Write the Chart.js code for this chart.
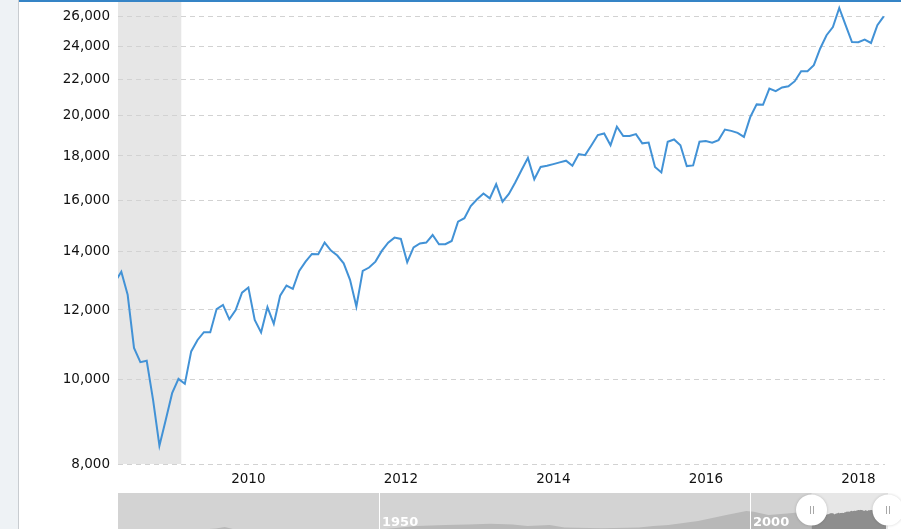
<!DOCTYPE html>
<html><head><meta charset="utf-8">
<script src="https://cdn.jsdelivr.net/npm/chart.js@4"></script>
<style>
html,body{margin:0;padding:0;width:901px;height:529px;overflow:hidden;background:#fff;}
#strip{position:absolute;left:0;top:0;width:18px;height:529px;background:#eef2f5;border-right:1px solid #c8ccd0;}
#topline{position:absolute;left:19px;top:0;width:882px;height:2px;background:#3584c6;z-index:2;}
#mainWrap{position:absolute;left:19px;top:0;width:882px;height:490px;}
#navWrap{position:absolute;left:118px;top:493px;width:783px;height:36px;}
</style></head><body>
<div id="strip"></div>
<div id="mainWrap"><canvas id="main" width="882" height="490"></canvas></div>
<div id="topline"></div>
<div id="navWrap"><canvas id="nav" width="783" height="36"></canvas></div>
<script>
// ---- main series: monthly values, starting April 2008 ----
const startYear = 2008;
const startMonth = 4;
const values = [
  12920, 13270, 12490, 10860, 10460, 10500, 9470, 8395, 8990,   // Apr 2008 - Dec 2008
  9640, 10010, 9880, 10760, 11090, 11320, 11320, 12030, 12160, 11710, 12000, 12560, // 2009
  12730, 11690, 11310, 12090, 11570, 12460, 12800, 12690, 13300, 13630, 13910, 13900, // 2010
  14330, 14030, 13850, 13570, 12990, 12110, 13300, 13420, 13630, 14020, 14330, 14520, // 2011
  14470, 13610, 14150, 14300, 14330, 14620, 14270, 14270, 14390, 15140, 15280, 15780, // 2012
  16060, 16310, 16100, 16710, 15960, 16290, 16790, 17350, 17910, 16930, 17490, 17540, // 2013
  17620, 17700, 17780, 17540, 18090, 18040, 18520, 19020, 19100, 18520, 19440, 18970, // 2014
  18970, 19070, 18610, 18650, 17490, 17240, 18690, 18800, 18520, 17530, 17560, 18690, // 2015
  18720, 18640, 18770, 19300, 19230, 19130, 18930, 19950, 20620, 20600, 21500, 21350, // 2016
  21560, 21630, 21920, 22500, 22500, 22860, 23890, 24740, 25280, 26580, 25400, 24300, // 2017
  24290, 24460, 24240, 25400, 26000                                                  // 2018
];
const yearTicks = [2010, 2012, 2014, 2016, 2018];
const valueTicks = [8000, 10000, 12000, 14000, 16000, 18000, 20000, 22000, 24000, 26000];
const viewRange = [2008.29, 2018.35];
const recession = [2007.92, 2009.12];

// ---- navigator (long history) ----
const navYears = [1914.8, 1920, 1925, 1928, 1929.2, 1931, 1935, 1945, 1950, 1955, 1959, 1962, 1965, 1968, 1970, 1973, 1975, 1980, 1985, 1987, 1989, 1993, 1996.8, 1999.5, 2000.5, 2002.5, 2005, 2007.8, 2008.3];
const navValues = [2500, 2000, 2600, 3000, 3500, 2500, 2200, 2400, 2700, 3900, 4300, 4500, 4800, 4500, 3900, 4300, 3300, 3100, 3300, 3900, 4300, 6400, 11600, 17400, 16000, 11500, 13500, 16500, 13000];
const navRange = [1914.8, 2018.6];
const navLabels = [1950, 2000];

const FONT = 'DejaVu Sans';
const pts = values.map((v, i) => ({x: startYear + (startMonth - 1 + i) / 12, y: v}));

const shade = {
  id: 'shade',
  beforeDraw(c) {
    const {ctx, chartArea: a, scales: {x}} = c;
    const x0 = Math.max(a.left, x.getPixelForValue(recession[0]));
    const x1 = Math.min(a.right, x.getPixelForValue(recession[1]));
    ctx.save();
    ctx.fillStyle = '#e6e6e6';
    ctx.fillRect(x0, a.top, x1 - x0, a.bottom - a.top);
    ctx.restore();
  }
};

function noPad(s) { s.paddingTop = 0; s.paddingBottom = 0; s.paddingLeft = 0; s.paddingRight = 0; }

new Chart(document.getElementById('main'), {
  type: 'line',
  data: {datasets: [{data: pts, borderColor: '#4292d6', borderWidth: 2, pointRadius: 0, tension: 0, fill: false}]},
  options: {
    responsive: false, animation: false,
    layout: {padding: {top: 2, right: 16, left: 0, bottom: 0}},
    plugins: {legend: {display: false}, tooltip: {enabled: false}},
    scales: {
      x: {
        type: 'linear', min: viewRange[0], max: viewRange[1],
        afterBuildTicks: s => { s.ticks = yearTicks.map(v => ({value: v})); },
        afterFit: s => { s.height = 26; noPad(s); },
        grid: {display: false, drawTicks: false},
        border: {display: false},
        ticks: {autoSkip: false, maxRotation: 0, padding: 7, color: '#111',
                font: {family: FONT, size: 13.5}, callback: v => String(v)}
      },
      y: {
        type: 'logarithmic', min: 8000, max: 27000,
        afterBuildTicks: s => { s.ticks = valueTicks.map(v => ({value: v})); },
        afterFit: s => { s.width = 99; noPad(s); },
        grid: {color: '#d2d2d2', lineWidth: 1, drawTicks: false},
        border: {display: false, dash: [5, 4]},
        ticks: {padding: 8, color: '#111', font: {family: FONT, size: 13.5},
                callback: v => Number(v).toLocaleString('en-US')}
      }
    }
  },
  plugins: [shade]
});

// navigator
const navPts = navYears.map((y, i) => ({x: y, y: navValues[i]}));
const navDeco = {
  id: 'navDeco',
  beforeDraw(c) {
    const {ctx, chartArea: a, scales: {x}} = c;
    ctx.save();
    ctx.fillStyle = '#d3d3d3';
    ctx.fillRect(a.left, 0, a.right - a.left, c.height);
    const s = x.getPixelForValue(viewRange[0]);
    ctx.fillStyle = '#e7e7e7';
    ctx.fillRect(s, 0, a.right - s, c.height);
    ctx.restore();
  },
  afterDatasetsDraw(c) {
    const {ctx, chartArea: a, scales: {x}} = c;
    ctx.save();
    navLabels.forEach(yr => {
      const px = Math.round(x.getPixelForValue(yr)) + 0.5;
      ctx.strokeStyle = '#ffffff';
      ctx.lineWidth = 1;
      ctx.beginPath(); ctx.moveTo(px, 0); ctx.lineTo(px, c.height); ctx.stroke();
      ctx.fillStyle = '#ffffff';
      ctx.font = 'bold 13px "' + FONT + '"';
      ctx.textBaseline = 'alphabetic';
      ctx.fillText(String(yr), px + 2.5, 33);
    });
    ctx.restore();
  },
  afterDraw(c) {
    const {ctx, chartArea: a, scales: {x}} = c;
    const hx = [x.getPixelForValue(viewRange[0]), a.right];
    ctx.save();
    hx.forEach(h => {
      ctx.shadowColor = 'rgba(0,0,0,0.18)';
      ctx.shadowBlur = 3;
      ctx.fillStyle = '#ffffff';
      ctx.beginPath(); ctx.arc(h, 17, 15.5, 0, Math.PI * 2); ctx.fill();
      ctx.shadowBlur = 0; ctx.shadowColor = 'transparent';
      ctx.strokeStyle = '#a8a8a8'; ctx.lineWidth = 1;
      ctx.beginPath();
      ctx.moveTo(Math.round(h) - 1.5, 13); ctx.lineTo(Math.round(h) - 1.5, 21);
      ctx.moveTo(Math.round(h) + 1.5, 13); ctx.lineTo(Math.round(h) + 1.5, 21);
      ctx.stroke();
    });
    ctx.restore();
  }
};

new Chart(document.getElementById('nav'), {
  type: 'line',
  data: {datasets: [
    {data: navPts, borderWidth: 0, borderColor: 'rgba(0,0,0,0)', backgroundColor: '#b8b8b8', fill: 'start', pointRadius: 0, tension: 0},
    {data: pts, borderWidth: 0, borderColor: 'rgba(0,0,0,0)', backgroundColor: '#8e8e8e', fill: 'start', pointRadius: 0, tension: 0}
  ]},
  options: {
    responsive: false, animation: false,
    layout: {padding: {top: 0, right: 13, left: 0, bottom: 0}},
    plugins: {legend: {display: false}, tooltip: {enabled: false}},
    scales: {
      x: {type: 'linear', min: navRange[0], max: navRange[1], display: false},
      y: {type: 'logarithmic', min: 2870, max: 105000, display: false}
    }
  },
  plugins: [navDeco]
});
</script>
</body></html>
